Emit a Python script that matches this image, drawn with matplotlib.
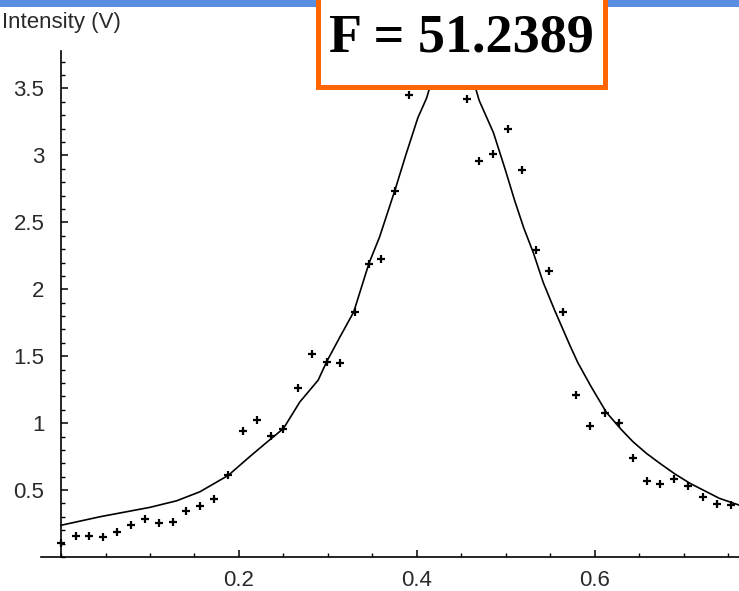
import matplotlib
matplotlib.use('Agg')
import matplotlib.pyplot as plt
from matplotlib.patches import Rectangle
from matplotlib.ticker import MultipleLocator

# measured points (position, intensity in V)
pos = [0.000, 0.017, 0.031, 0.047, 0.063, 0.079, 0.094, 0.110, 0.126, 0.140,
       0.156, 0.172, 0.188, 0.204, 0.220, 0.236, 0.250, 0.266, 0.282, 0.299,
       0.314, 0.330, 0.346, 0.360, 0.375, 0.391, 0.456, 0.470, 0.486, 0.502,
       0.518, 0.534, 0.549, 0.564, 0.579, 0.595, 0.611, 0.627, 0.643, 0.659,
       0.673, 0.689, 0.705, 0.721, 0.737, 0.753]
inten = [0.104, 0.157, 0.157, 0.147, 0.184, 0.237, 0.281, 0.251, 0.263, 0.343,
         0.383, 0.435, 0.610, 0.940, 1.022, 0.903, 0.955, 1.261, 1.513, 1.455,
         1.446, 1.831, 2.192, 2.229, 2.734, 3.453, 3.423, 2.957, 3.013, 3.196,
         2.893, 2.293, 2.134, 1.831, 1.209, 0.980, 1.072, 1.002, 0.741, 0.569,
         0.543, 0.582, 0.530, 0.448, 0.396, 0.386]

# fitted curve
fit_x = [0.000, 0.044, 0.100, 0.130, 0.156, 0.175, 0.188, 0.212, 0.230, 0.250,
         0.2685, 0.289, 0.2985, 0.3135, 0.329, 0.346, 0.358, 0.375, 0.388, 0.401,
         0.411, 0.425, 0.440, 0.455, 0.470, 0.486, 0.499, 0.510, 0.520, 0.531,
         0.542, 0.555, 0.572, 0.581, 0.596, 0.613, 0.630, 0.643, 0.658, 0.673,
         0.690, 0.707, 0.740, 0.762]
fit_y = [0.237, 0.301, 0.371, 0.420, 0.487, 0.560, 0.610, 0.749, 0.850, 0.960,
         1.159, 1.321, 1.458, 1.644, 1.831, 2.192, 2.390, 2.734, 3.013, 3.280,
         3.430, 3.750, 3.950, 3.750, 3.410, 3.170, 2.900, 2.660, 2.460, 2.270,
         2.050, 1.840, 1.580, 1.450, 1.270, 1.080, 0.950, 0.860, 0.774, 0.700,
         0.620, 0.550, 0.438, 0.388]

W, H = 739, 591
fig = plt.figure(figsize=(W / 100, H / 100), dpi=100)
ax = fig.add_axes([41 / W, (H - 557) / H, 1 - 41 / W, (557 - 51) / H])

ax.plot(fit_x, fit_y, '-', color='black', lw=1.2, zorder=2)
ax.plot(pos, inten, '+', color='black', ms=5.5, mew=1.6, zorder=3)

ax.set_xlim(-0.0225, 0.762)
ax.set_ylim(0, 3.78)
ax.spines['left'].set_position(('data', 0))
ax.spines['top'].set_visible(False)
ax.spines['right'].set_visible(False)
for s in ('left', 'bottom'):
    ax.spines[s].set_linewidth(1.2)

ax.xaxis.set_minor_locator(MultipleLocator(0.05))
ax.yaxis.set_minor_locator(MultipleLocator(0.1))
ax.set_xticks([0.2, 0.4, 0.6])
ax.set_xticklabels(['0.2', '0.4', '0.6'])
ax.set_yticks([0.5, 1, 1.5, 2, 2.5, 3, 3.5])
ax.set_yticklabels(['0.5', '1', '1.5', '2', '2.5', '3', '3.5'])
ax.tick_params(which='major', direction='in', length=5, width=1.1,
               labelsize=16, labelcolor='#2a2a2a')
ax.tick_params(which='minor', direction='in', length=3, width=1.0)
ax.tick_params(axis='x', pad=9)
ax.tick_params(axis='y', pad=12)
for lab in ax.get_xticklabels() + ax.get_yticklabels():
    lab.set_family('Liberation Sans')

fig.text(2 / W, 1 - 28 / H, 'Intensity (V)', fontsize=16, color='#2a2a2a',
         family='Liberation Sans', ha='left', va='baseline')

# blue slide band on top
fig.patches.append(Rectangle((0, 1 - 7 / H), 1, 7 / H, transform=fig.transFigure,
                             facecolor='#5a8ee0', edgecolor='none', zorder=4))

# orange box with F value
fig.patches.append(Rectangle((317.5 / W, 1 - 86.5 / H), (604.5 - 317.5) / W, 100 / H,
                             transform=fig.transFigure, facecolor='white',
                             edgecolor='#ff6600', lw=3.6, zorder=5))
fig.text(461.5 / W, 1 - 52 / H, 'F = 51.2389', fontsize=39, fontweight='bold',
         family='Liberation Serif', ha='center', va='baseline', color='black', zorder=6)

fig.savefig('out.png', dpi=100)
